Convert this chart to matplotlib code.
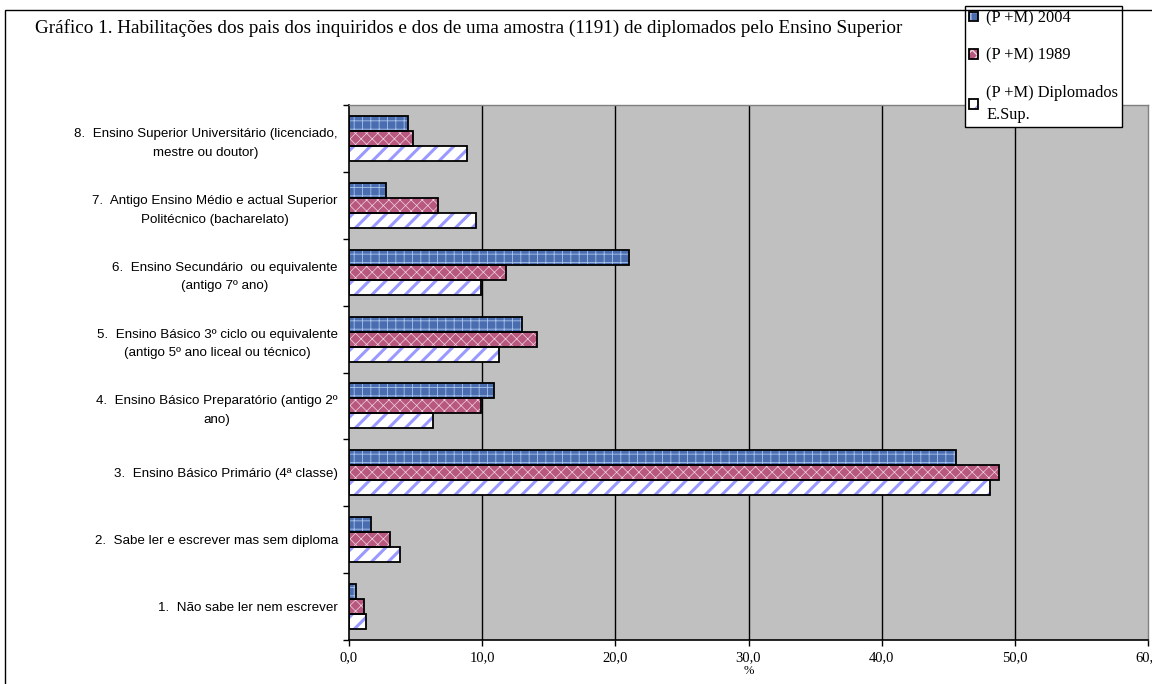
import numpy as np
import matplotlib.pyplot as plt
from matplotlib.patches import Rectangle
from matplotlib.legend_handler import HandlerTuple

# categorias (de baixo para cima)
categorias = [
    "1.  Não sabe ler nem escrever",
    "2.  Sabe ler e escrever mas sem diploma",
    "3.  Ensino Básico Primário (4ª classe)",
    "4.  Ensino Básico Preparatório (antigo 2º\nano)",
    "5.  Ensino Básico 3º ciclo ou equivalente\n(antigo 5º ano liceal ou técnico)",
    "6.  Ensino Secundário  ou equivalente\n(antigo 7º ano)",
    "7.  Antigo Ensino Médio e actual Superior\nPolitécnico (bacharelato)",
    "8.  Ensino Superior Universitário (licenciado,\nmestre ou doutor)",
]

# percentagens
pm_2004 = [0.5, 1.65, 45.6, 10.9, 13.0, 21.0, 2.8, 4.4]
pm_1989 = [1.1, 3.1, 48.8, 9.9, 14.1, 11.8, 6.7, 4.8]
pm_dipl = [1.3, 3.8, 48.1, 6.3, 11.3, 9.9, 9.5, 8.85]

series = ["(P +M) 2004", "(P +M) 1989", "(P +M) Diplomados\nE.Sup."]
xticks = [0, 10, 20, 30, 40, 50, 60]

serif = ["Liberation Serif", "DejaVu Serif"]
sans = ["Liberation Sans", "DejaVu Sans"]

fig = plt.figure(figsize=(11.52, 6.84), dpi=100)
ax = fig.add_axes([349/1152, 1-640/684, (1148-349)/1152, (640-105)/684])
ax.set_facecolor("#c0c0c0")

y = np.arange(len(categorias))
h = 0.224

# estilo de cada série: (deslocamento, cor de fundo, cor do padrão, padrão, espessura)
estilos = [
    (h, "#4a6db0", "#a9c3ea", "++", 0.6),
    (0, "#b8587f", "#f0d4e0", "xxx", 0.5),
    (-h, "white", "#9999ff", "//", 2.2),
]

handles = []
for vals, (dy, fc, hc, hatch, hlw) in zip([pm_2004, pm_1989, pm_dipl], estilos):
    with plt.rc_context({"hatch.linewidth": hlw}):
        base = ax.barh(y + dy, vals, height=h, color=fc, edgecolor=hc,
                       hatch=hatch, linewidth=0, zorder=2)
        for p in base:
            if hasattr(p, "set_hatch_linewidth"):
                p.set_hatch_linewidth(hlw)
    contorno = ax.barh(y + dy, vals, height=h, fill=False,
                       edgecolor="black", linewidth=1.3, zorder=3)
    handles.append((base, contorno))

ax.set_xlim(0, 60)
ax.set_ylim(-0.5, len(categorias) - 0.5)

# eixo x com vírgula decimal
ax.set_xticks(xticks)
ax.set_xticklabels([("%.1f" % v).replace(".", ",") for v in xticks],
                   fontsize=10.5, family=serif)
ax.tick_params(axis="x", direction="out", length=4, width=1, pad=4)

ax.set_yticks(y)
ax.set_yticklabels(categorias, fontsize=9.6, family=sans, linespacing=1.75,
                   multialignment="center")
ax.set_yticks(np.arange(-0.5, len(categorias)), minor=True)
ax.tick_params(axis="y", which="major", length=0, pad=8)
ax.tick_params(axis="y", which="minor", direction="out", length=4, width=1)

ax.set_xlabel("%", fontsize=9, family=serif, labelpad=1)

ax.grid(axis="x", color="black", linewidth=1)
ax.set_axisbelow(True)
ax.get_xgridlines()[-1].set_visible(False)
ax.get_xgridlines()[0].set_visible(False)

for s in ["left", "bottom"]:
    ax.spines[s].set_color("black")
    ax.spines[s].set_linewidth(1.2)
for s in ["top", "right"]:
    ax.spines[s].set_color("#808080")
    ax.spines[s].set_linewidth(1)

# moldura do gráfico
fig.patches.append(Rectangle((5/1152, -0.05), 1.1, 1-10/684+0.05,
                             transform=fig.transFigure, fill=False,
                             edgecolor="black", linewidth=1, zorder=0))

fig.text(35/1152, 1-28/684, "Gráfico 1. Habilitações dos pais dos inquiridos e dos de uma amostra (1191) de diplomados pelo Ensino Superior",
         fontsize=13.8, family=serif, va="center", ha="left")

leg = ax.legend(handles, series, handler_map={tuple: HandlerTuple(ndivide=1)},
                loc="lower left", bbox_to_anchor=(965/1152, 1-127/684),
                bbox_transform=fig.transFigure, borderaxespad=0,
                prop={"family": serif, "size": 11.8}, frameon=True, fancybox=False,
                edgecolor="black", framealpha=1, labelspacing=1.3,
                handlelength=0.55, handleheight=0.55, handletextpad=0.5,
                borderpad=0.25)
for t in leg.get_texts():
    t.set_linespacing(1.5)
leg.get_frame().set_linewidth(1)
leg.set_zorder(10)

plt.savefig("out.png", dpi=100)
